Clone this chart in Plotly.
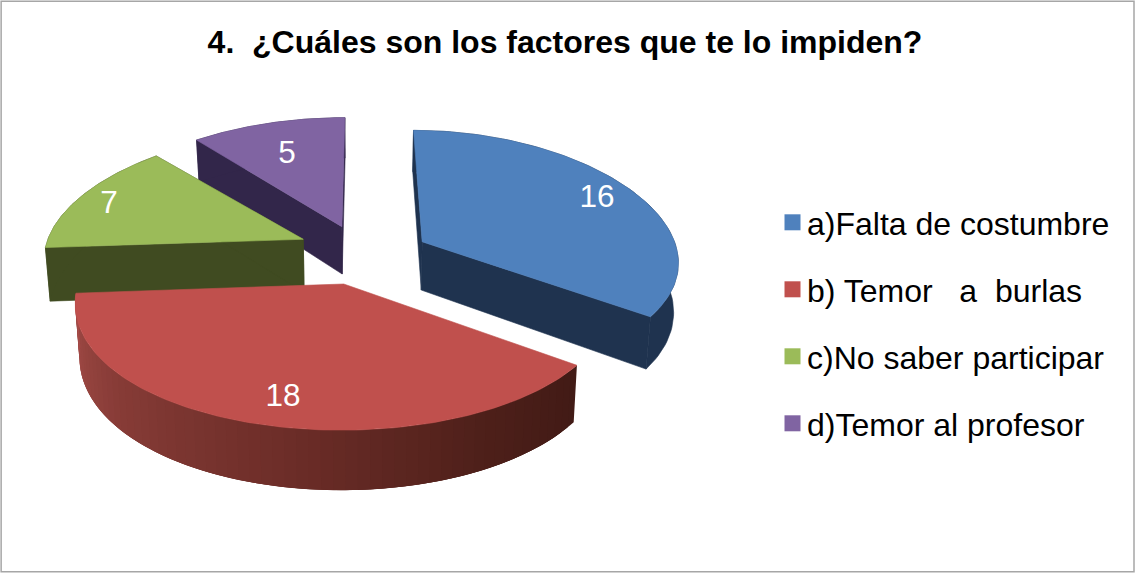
import numpy as np
import plotly.graph_objects as go

categories = ["a)Falta de costumbre", "b) Temor\u00a0\u00a0\u00a0a\u00a0\u00a0burlas",
              "c)No saber participar", "d)Temor al profesor"]
values = [16, 18, 7, 5]
title_text = "<b>4.\u00a0\u00a0¿Cuáles son los factores que te lo impiden?</b>"

top_colors = ["#4F81BD", "#C0504D", "#9BBB59", "#8064A2"]
wall_colors = ["#1F334F", None, "#404B21", "#32264A"]
# world-space explosion offset, radius scale and depth of every slice
offsets = [(0.235, 0.03), (-0.068, 0.35), (-0.23, 0.01), (-0.08, -0.09)]
radius_scale = [(0.985, 0.965), (0.99, 0.985), (1.0, 0.95), (1.05, 0.97)]
depths = [48, 50, 53, 48]
green_end_shift_deg = -3
label_xy = [(597, 199), (283, 398), (109, 205), (287, 155)]
draw_order = [3, 2, 0, 1]

X0, Y0, RX, RY, KX, KY, ZS = 362, 238, 255, 127, 0.15, 0.10, 0.985
red_grad = [(0, (66, 27, 22)), (0.18, (78, 32, 26)), (0.45, (108, 45, 40)),
            (0.75, (135, 60, 55)), (1, (165, 76, 72))]


def project(wx, wy, depth=None):
    s = 1 + KX * wy
    x = X0 + RX * wx * s
    y = Y0 + RY * wy * (1 + KY * wy)
    if depth is not None:
        x = X0 + (x - X0) * ZS
        y = y + depth * s
    return x, y


def rim(i, th, low=False):
    ox, oy = offsets[i]
    sx, sy = radius_scale[i]
    return project(ox + sx * np.sin(th), oy - sy * np.cos(th), depths[i] if low else None)


def apex(i, low=False):
    return project(offsets[i][0], offsets[i][1], depths[i] if low else None)


def poly(fig, xs, ys, color, width=0.6):
    fig.add_trace(go.Scatter(
        x=list(xs), y=list(ys), mode="lines", fill="toself", fillcolor=color,
        line=dict(color=color, width=width), showlegend=False, hoverinfo="skip"))


def grad(t):
    for (a, ca), (b, cb) in zip(red_grad, red_grad[1:]):
        if t <= b:
            f = (t - a) / (b - a)
            return "rgb(%d,%d,%d)" % tuple(ca[k] + f * (cb[k] - ca[k]) for k in range(3))
    return "rgb(%d,%d,%d)" % red_grad[-1][1]


total = sum(values)
edges = np.concatenate([[0], np.cumsum(values)]) / total * 2 * np.pi

fig = go.Figure()
for i in draw_order:
    a, b = edges[i], edges[i + 1]
    if i == 2:
        b += np.radians(green_end_shift_deg)
    if wall_colors[i]:
        # flat cut faces
        for th in (a, b):
            ax, ay = apex(i)
            lx, ly = apex(i, True)
            rx0, ry0 = rim(i, th)
            rx1, ry1 = rim(i, th, True)
            poly(fig, [ax, rx0, rx1, lx, ax], [ay, ry0, ry1, ly, ay], wall_colors[i])
        # outer wall in one piece
        th = np.linspace(a, b, 80)
        p = [rim(i, t) for t in th] + [rim(i, t, True) for t in th[::-1]]
        p.append(p[0])
        poly(fig, [q[0] for q in p], [q[1] for q in p], wall_colors[i])
    else:
        # outer wall in overlapping strips, painted from the far end so each covers the last seam
        th = np.linspace(a, b, 61)
        for k in range(60):
            t0, t1 = th[k], b if k == 59 else th[min(k + 3, 60)]
            ts = np.linspace(t0, t1, 6)
            p = [rim(i, t) for t in ts] + [rim(i, t, True) for t in ts[::-1]]
            p.append(p[0])
            poly(fig, [q[0] for q in p], [q[1] for q in p], grad(k / 59), width=0)
    # top face
    pts = [apex(i)] + [rim(i, t) for t in np.linspace(a, b, 120)] + [apex(i)]
    poly(fig, [q[0] for q in pts], [q[1] for q in pts], top_colors[i])

for i, cat in enumerate(categories):
    fig.add_trace(go.Scatter(
        x=[None], y=[None], mode="markers", name=cat, legendgroup=cat,
        marker=dict(symbol="square", size=17, color=top_colors[i]), hoverinfo="skip"))

fig.add_trace(go.Scatter(
    x=[p[0] for p in label_xy], y=[p[1] for p in label_xy], mode="text",
    text=[str(v) for v in values], textposition="middle center",
    textfont=dict(family="Liberation Sans", size=31.5, color="white"),
    showlegend=False, hoverinfo="skip"))

fig.update_layout(
    width=1136, height=573,
    margin=dict(l=0, r=0, t=0, b=0),
    paper_bgcolor="white", plot_bgcolor="white",
    xaxis=dict(range=[0, 1136], visible=False, fixedrange=True),
    yaxis=dict(range=[573, 0], visible=False, fixedrange=True),
    title=dict(text=title_text, x=565 / 1136, xanchor="center", y=1 - 42 / 573, yanchor="middle",
               font=dict(family="Liberation Sans", size=32, color="black")),
    legend=dict(x=767 / 1136, xanchor="left", y=1 - 195 / 573, yanchor="top",
                font=dict(family="Liberation Sans", size=32, color="black"),
                tracegroupgap=22.4, itemclick=False, itemdoubleclick=False,
                bgcolor="rgba(0,0,0,0)"),
    shapes=[dict(type="rect", xref="paper", yref="paper", x0=0.001, x1=1134 / 1136, y0=0.002, y1=0.998,
                 line=dict(color="#A6A6A6", width=1.5), fillcolor="rgba(0,0,0,0)", layer="below")],
)
fig.write_html("out.html", config=dict(displayModeBar=False),
               post_script="document.body.style.margin='0';document.body.style.overflow='hidden';"
                           "document.querySelectorAll('g.legendsymbols').forEach("
                           "function(e){e.setAttribute('transform','translate(5.5,0)');});")
